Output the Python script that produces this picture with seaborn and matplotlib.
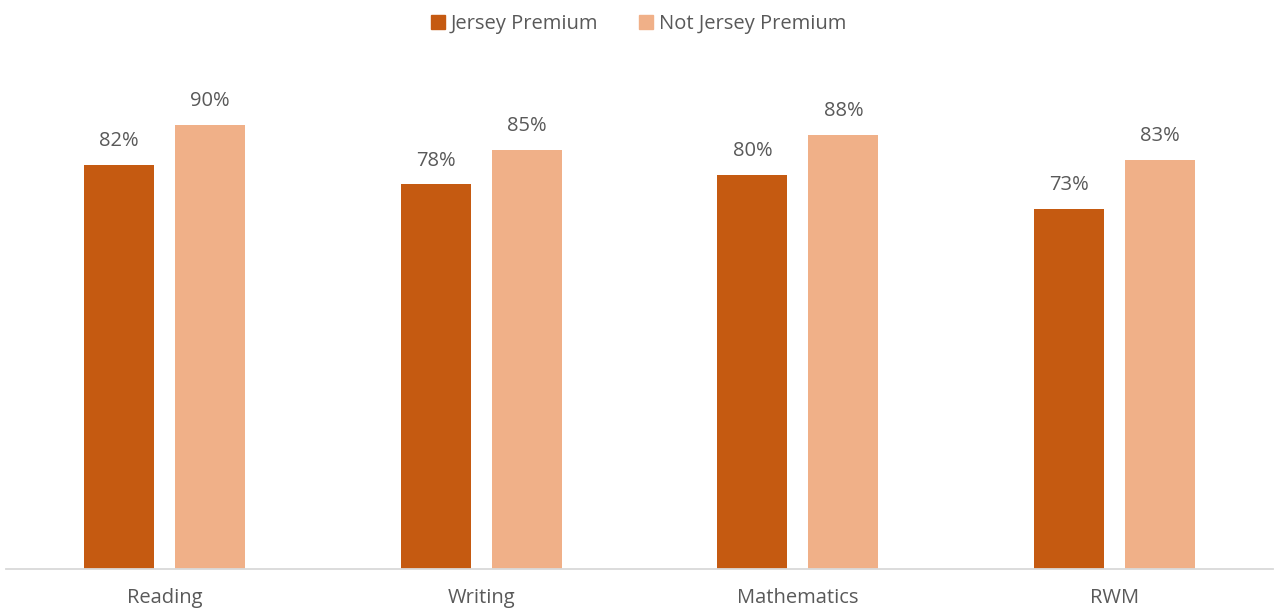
import pandas as pd
import matplotlib.pyplot as plt
import seaborn as sns

# chart data
subjects = ['Reading', 'Writing', 'Mathematics', 'RWM']
jersey_premium = [0.82, 0.78, 0.80, 0.73]
not_jersey_premium = [0.90, 0.85, 0.88, 0.83]
series_names = ['Jersey Premium', 'Not Jersey Premium']
colors = ['#C55A11', '#F0B088']

df = pd.DataFrame({
    'subject': subjects * 2,
    'group': [series_names[0]] * 4 + [series_names[1]] * 4,
    'value': jersey_premium + not_jersey_premium,
})

sns.set_style('white')
plt.rcParams['font.family'] = ['Open Sans', 'DejaVu Sans']
text_color = '#595959'

fig = plt.figure(figsize=(12.77, 6.10), dpi=100)
ax = fig.add_axes([6 / 1277, 1 - 569 / 610, 1267 / 1277, 493 / 610])

sns.barplot(data=df, x='subject', y='value', hue='group', palette=colors,
            saturation=1, linewidth=0, width=0.574, gap=0.23, ax=ax, legend=False)

for container in ax.containers:
    ax.bar_label(container, labels=[f'{v * 100:.0f}%' for v in container.datavalues],
                 padding=10, fontsize=14.5, color=text_color)

ax.set_xlim(-0.5, 3.5)
ax.set_ylim(0, 1)
ax.set_xlabel('')
ax.set_ylabel('')
ax.set_yticks([])
ax.tick_params(axis='x', length=0, pad=14, labelsize=14.5, labelcolor=text_color)
for side in ['top', 'left', 'right']:
    ax.spines[side].set_visible(False)
ax.spines['bottom'].set_color('#D9D9D9')
ax.spines['bottom'].set_linewidth(1.3)

handles = [plt.Rectangle((0, 0), 1, 1, color=c) for c in colors]
fig.legend(handles, series_names, loc='center', bbox_to_anchor=(0.5, 1 - 24 / 610),
           ncol=2, frameon=False, fontsize=14.5, labelcolor=text_color,
           handlelength=0.7, handleheight=0.7, handletextpad=0.3, columnspacing=2.0)

fig.savefig('out.png', dpi=100)
